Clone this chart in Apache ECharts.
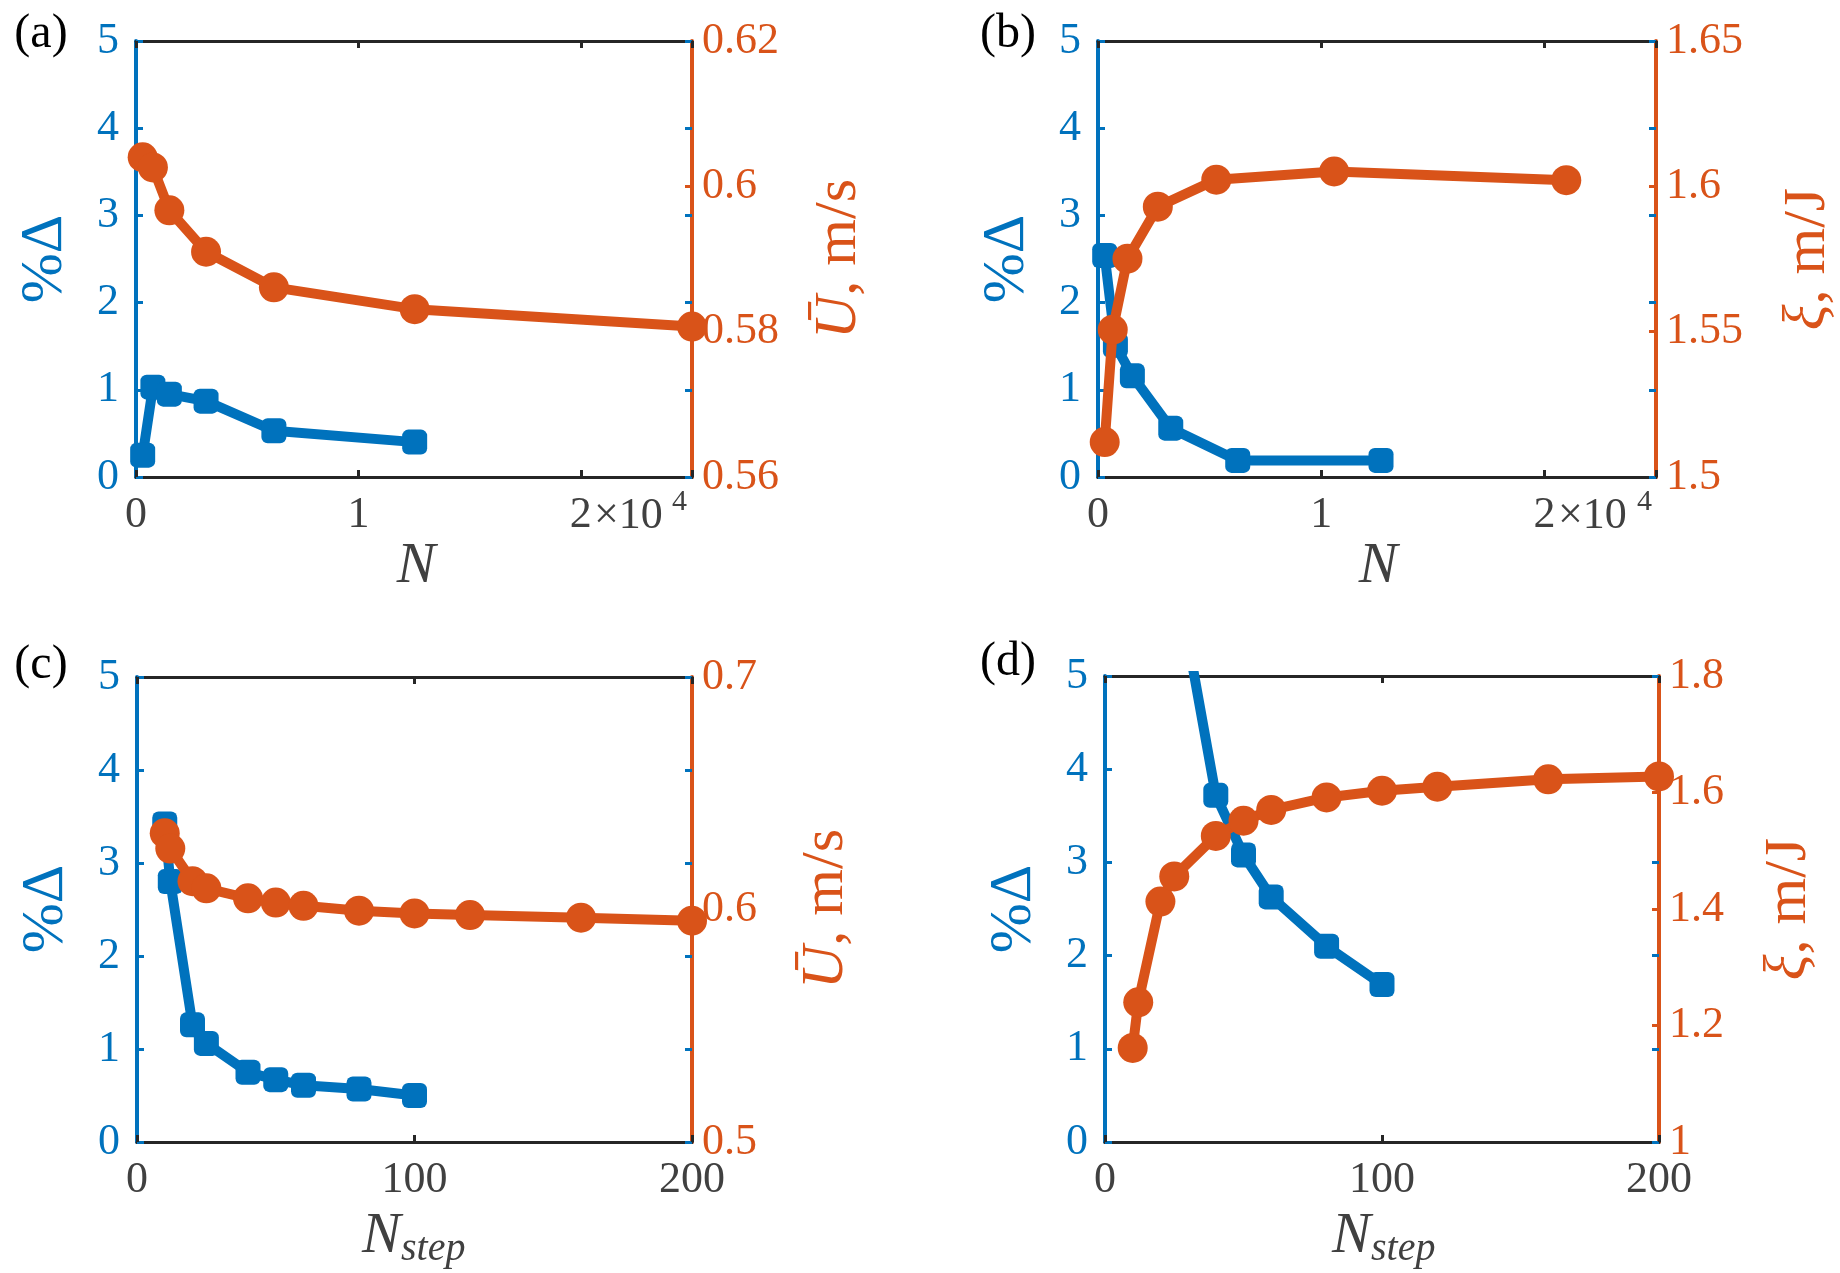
<!DOCTYPE html>
<html>
<head>
<meta charset="utf-8">
<title>convergence</title>
<script src="https://cdn.jsdelivr.net/npm/echarts@6/dist/echarts.min.js"></script>
<style>
html, body { margin: 0; padding: 0; background: #fff; }
#main { width: 1840px; height: 1273px; }
</style>
</head>
<body>
<div id="main"></div>
<script>
//(a) 网格数 N: 误差 %Δ 与平均速度
var nA_err = [300, 760, 1500, 3150, 6200, 12530];
var errA = [0.25, 1.03, 0.95, 0.87, 0.53, 0.40];
var nA_u = [300, 760, 1500, 3150, 6200, 12530, 25000];
var speedA = [0.6040, 0.6026, 0.5967, 0.5910, 0.5861, 0.5831, 0.5807];

//(b) 网格数 N: 误差 %Δ 与 ξ
var nB_err = [300, 780, 1540, 3260, 6260, 12680];
var errB = [2.54, 1.51, 1.16, 0.56, 0.19, 0.19];
var nB_xi = [300, 660, 1320, 2680, 5300, 10580, 20980];
var xiB = [1.5120, 1.5507, 1.5751, 1.5930, 1.6023, 1.6051, 1.6021];

//(c) 时间步 N_step: 误差 %Δ 与平均速度
var stepC_err = [10, 12, 20, 25, 40, 50, 60, 80, 100];
var errC = [3.42, 2.80, 1.26, 1.06, 0.75, 0.67, 0.61, 0.57, 0.50];
var stepC_u = [10, 12, 20, 25, 40, 50, 60, 80, 100, 120, 160, 200];
var speedC = [0.6328, 0.6262, 0.6122, 0.6091, 0.6048, 0.6030, 0.6016, 0.5995, 0.5983, 0.5976, 0.5965, 0.5952];

//(d) 时间步 N_step: 误差 %Δ 与 ξ (第一个点超出纵轴范围)
var stepD_err = [25, 40, 50, 60, 80, 100];
var errD = [6.2, 3.72, 3.08, 2.63, 2.10, 1.69];
var stepD_xi = [10, 12, 20, 25, 40, 50, 60, 80, 100, 120, 160, 200];
var xiD = [1.1615, 1.2398, 1.4128, 1.4560, 1.5255, 1.5515, 1.5700, 1.5915, 1.6030, 1.6100, 1.6227, 1.6276];

var FONT = "'Liberation Serif', 'Times New Roman', serif";
var BLUE = '#0072BD';
var ORANGE = '#D95319';
var AXIS = '#262626';
var TICKTXT = '#404040';
var TICKSIZE = 44;
var NAMESIZE = 60;

var pairs = function(xs, ys) {
	return ys.map(function(y, i) {
		return [xs[i], y];
	});
};

var fmtN = function(v) {
	return v % 10000 === 0 ? String(v / 10000) : '';
};

var panels = [{
	grid: { left: 136, top: 41, width: 556, height: 436 },
	xMax: 25000, xInt: 10000, xFmt: fmtN,
	rMin: 0.56, rMax: 0.62, rInt: 0.02,
	blue: pairs(nA_err, errA), orange: pairs(nA_u, speedA)
}, {
	grid: { left: 1098, top: 41, width: 558, height: 436 },
	xMax: 25000, xInt: 10000, xFmt: fmtN,
	rMin: 1.5, rMax: 1.65, rInt: 0.05,
	blue: pairs(nB_err, errB), orange: pairs(nB_xi, xiB)
}, {
	grid: { left: 137, top: 677, width: 555, height: 465 },
	xMax: 200, xInt: 100, xFmt: null,
	rMin: 0.5, rMax: 0.7, rInt: 0.1,
	blue: pairs(stepC_err, errC), orange: pairs(stepC_u, speedC)
}, {
	grid: { left: 1105, top: 676, width: 554, height: 466 },
	xMax: 200, xInt: 100, xFmt: null,
	rMin: 1, rMax: 1.8, rInt: 0.2,
	blue: pairs(stepD_err, errD), orange: pairs(stepD_xi, xiD)
}];

var tickStyle = function(color) {
	return { show: true, inside: true, length: 7, lineStyle: { color: color, width: 3 } };
};

var option = {
	animation: false,
	backgroundColor: '#ffffff',
	grid: [],
	xAxis: [],
	yAxis: [],
	series: [],
	graphic: []
};

panels.forEach(function(p, i) {
	option.grid.push(p.grid);
	//下方与上方 x 轴
	['bottom', 'top'].forEach(function(pos) {
		option.xAxis.push({
			gridIndex: i,
			type: 'value',
			position: pos,
			min: 0,
			max: p.xMax,
			interval: p.xInt,
			axisLine: { show: true, onZero: false, lineStyle: { color: AXIS, width: 3 } },
			axisTick: tickStyle(AXIS),
			axisLabel: {
				show: pos === 'bottom',
				color: TICKTXT,
				fontFamily: FONT,
				fontSize: TICKSIZE,
				margin: 16,
				formatter: p.xFmt || undefined
			},
			splitLine: { show: false }
		});
	});
	//左轴 %Δ
	option.yAxis.push({
		gridIndex: i,
		type: 'value',
		position: 'left',
		min: 0,
		max: 5,
		interval: 1,
		axisLine: { show: true, onZero: false, lineStyle: { color: BLUE, width: 4 } },
		axisTick: tickStyle(BLUE),
		axisLabel: { color: BLUE, fontFamily: FONT, fontSize: TICKSIZE, margin: 17, padding: [9, 0, 0, 0] },
		splitLine: { show: false }
	});
	//右轴
	option.yAxis.push({
		gridIndex: i,
		type: 'value',
		position: 'right',
		min: p.rMin,
		max: p.rMax,
		interval: p.rInt,
		axisLine: { show: true, onZero: false, lineStyle: { color: ORANGE, width: 4 } },
		axisTick: tickStyle(ORANGE),
		axisLabel: { color: ORANGE, fontFamily: FONT, fontSize: TICKSIZE, margin: 10, padding: [9, 0, 0, 0] },
		splitLine: { show: false }
	});
	//右侧的蓝色刻度
	option.yAxis.push({
		gridIndex: i,
		type: 'value',
		position: 'right',
		min: 0,
		max: 5,
		interval: 1,
		axisLine: { show: false, onZero: false },
		axisTick: tickStyle(BLUE),
		axisLabel: { show: false },
		splitLine: { show: false }
	});

	option.series.push({
		type: 'line',
		xAxisIndex: 2 * i,
		yAxisIndex: 3 * i,
		data: p.blue,
		symbol: 'roundRect',
		symbolSize: 25,
		showAllSymbol: true,
		lineStyle: { color: BLUE, width: 10, cap: 'round', join: 'round' },
		itemStyle: { color: BLUE },
		z: 3
	});
	option.series.push({
		type: 'line',
		xAxisIndex: 2 * i,
		yAxisIndex: 3 * i + 1,
		data: p.orange,
		symbol: 'circle',
		symbolSize: 30,
		showAllSymbol: true,
		lineStyle: { color: ORANGE, width: 10, cap: 'round', join: 'round' },
		itemStyle: { color: ORANGE },
		z: 4
	});
});

var txt = function(x, y, text, size, color, extra) {
	var el = {
		type: 'text',
		x: x,
		y: y,
		style: {
			text: text,
			fontFamily: FONT,
			fontSize: size,
			fill: color,
			align: 'center',
			verticalAlign: 'middle'
		}
	};
	if(extra) {
		for(var k in extra) {
			if(k === 'style') {
				for(var s in extra.style) el.style[s] = extra.style[s];
			} else {
				el[k] = extra[k];
			}
		}
	}
	return el;
};

var ROT = Math.PI / 2;
var richName = function() {
	return {
		i: { fontFamily: FONT, fontSize: NAMESIZE, fontStyle: 'italic', fill: ORANGE },
		n: { fontFamily: FONT, fontSize: NAMESIZE, fill: ORANGE }
	};
};

//子图编号
option.graphic.push(txt(41, 34, '(a)', 48, '#000'));
option.graphic.push(txt(1008, 34, '(b)', 48, '#000'));
option.graphic.push(txt(41, 665, '(c)', 48, '#000'));
option.graphic.push(txt(1008, 662, '(d)', 48, '#000'));

//左侧纵轴标题
option.graphic.push(txt(45, 259, '%Δ', NAMESIZE, BLUE, { rotation: ROT }));
option.graphic.push(txt(1007, 259, '%Δ', NAMESIZE, BLUE, { rotation: ROT }));
option.graphic.push(txt(46, 909, '%Δ', NAMESIZE, BLUE, { rotation: ROT }));
option.graphic.push(txt(1014, 909, '%Δ', NAMESIZE, BLUE, { rotation: ROT }));

//右侧纵轴标题
option.graphic.push(txt(839, 259, '{i|Ū}{n|, m/s}', NAMESIZE, ORANGE, { rotation: ROT, style: { rich: richName() } }));
option.graphic.push(txt(1808, 259, '{i|ξ}{n|, m/J}', NAMESIZE, ORANGE, { rotation: ROT, style: { rich: richName() } }));
option.graphic.push(txt(826, 909, '{i|Ū}{n|, m/s}', NAMESIZE, ORANGE, { rotation: ROT, style: { rich: richName() } }));
option.graphic.push(txt(1789, 909, '{i|ξ}{n|, m/J}', NAMESIZE, ORANGE, { rotation: ROT, style: { rich: richName() } }));

//横轴标题
var italic = { style: { fontStyle: 'italic' } };
option.graphic.push(txt(416, 567, 'N', 58, TICKTXT, italic));
option.graphic.push(txt(1378, 567, 'N', 58, TICKTXT, italic));
option.graphic.push(txt(362, 1237, 'N', 58, TICKTXT, { style: { fontStyle: 'italic', align: 'left' } }));
option.graphic.push(txt(401, 1249, 'step', 40, TICKTXT, { style: { fontStyle: 'italic', align: 'left' } }));
option.graphic.push(txt(1332, 1237, 'N', 58, TICKTXT, { style: { fontStyle: 'italic', align: 'left' } }));
option.graphic.push(txt(1371, 1249, 'step', 40, TICKTXT, { style: { fontStyle: 'italic', align: 'left' } }));

//×10^4 指数
option.graphic.push(txt(594, 516, '×10', TICKSIZE, TICKTXT, { style: { align: 'left' } }));
option.graphic.push(txt(672, 502, '4', 30, TICKTXT, { style: { align: 'left' } }));
option.graphic.push(txt(1558, 516, '×10', TICKSIZE, TICKTXT, { style: { align: 'left' } }));
option.graphic.push(txt(1637, 502, '4', 30, TICKTXT, { style: { align: 'left' } }));

var chart = echarts.init(document.getElementById('main'), null, { renderer: 'canvas' });
chart.setOption(option);
</script>
</body>
</html>
